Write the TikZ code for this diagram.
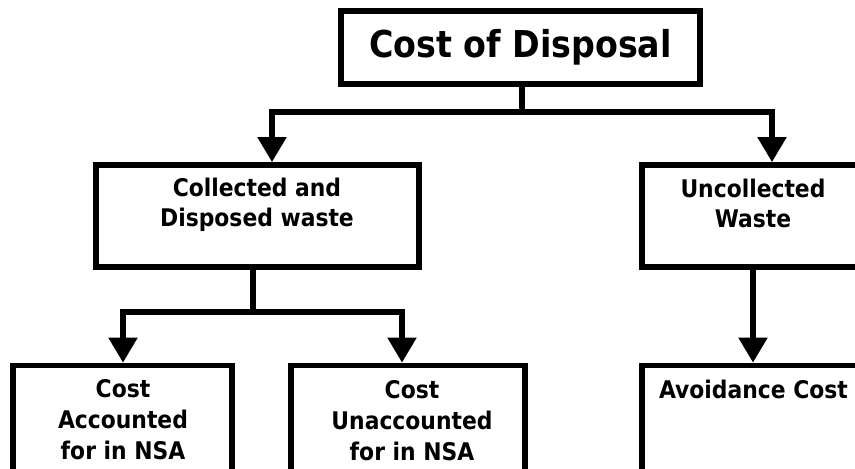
\documentclass[tikz,border=0pt]{standalone}
\usepackage{fontspec}
\setmainfont{DejaVu Sans Condensed}
\usetikzlibrary{arrows.meta}
\begin{document}
\begin{tikzpicture}[x=1pt,y=-1pt,
  box/.style={draw=black,line width=5.8pt,fill=white,inner sep=0pt},
  lbl/.style={anchor=base,align=center,inner sep=0pt,font=\bfseries\fontsize{24.3}{29.5}\selectfont},
  lblb/.style={lbl,font=\bfseries\fontsize{24.3}{31}\selectfont},
  conn/.style={line width=5.3pt,-{Triangle[width=28pt,length=25pt]}}]
\useasboundingbox (0,0) rectangle (855,469);
\clip (0,0) rectangle (855,469);
% boxes
\node[box,minimum width=359pt,minimum height=73pt] (top) at (520.5,47.5) {};
\node[box,minimum width=323pt,minimum height=102pt] (coll) at (257.5,216) {};
\node[box,minimum width=222pt,minimum height=102pt] (unc) at (753,216) {};
\node[box,minimum width=222pt,minimum height=150pt] (avo) at (753,440.5) {};
\node[box,minimum width=219pt,minimum height=150pt] (bl) at (122.5,440.5) {};
\node[box,minimum width=234pt,minimum height=150pt] (bm) at (408,440.5) {};
% texts
\node[lbl,font=\bfseries\fontsize{37}{40}\selectfont] (ttop) at (520.5,57) {Cost of Disposal};
\node[lbl] (tcoll) at (257,226) {Collected and\\Disposed waste};
\node[lbl] (tunc) at (753,227) {Uncollected\\Waste};
\node[lbl] (tavo) at (753.5,398) {Avoidance Cost};
\node[lblb] (tbl) at (123,459) {Cost\\Accounted\\for in NSA};
\node[lblb] (tbm) at (412,460) {Cost\\Unaccounted\\for in NSA};
% connectors
\coordinate (j1) at (522,112);
\coordinate (j2) at (253,312);
\draw[conn,-] (top.south -| j1) -- (j1);
\draw[conn,{Triangle[width=28pt,length=25pt]}-{Triangle[width=28pt,length=25pt]}]
  (coll.north -| 272,0) |- (772,112) -- (unc.north -| 772,0);
\draw[conn,-] (coll.south -| j2) -- (j2);
\draw[conn,{Triangle[width=28pt,length=25pt]}-{Triangle[width=28pt,length=25pt]}]
  (bl.north -| 123,0) |- (402,312) -- (bm.north -| 402,0);
\draw[conn] (unc.south) -- (avo.north);
\end{tikzpicture}
\end{document}
